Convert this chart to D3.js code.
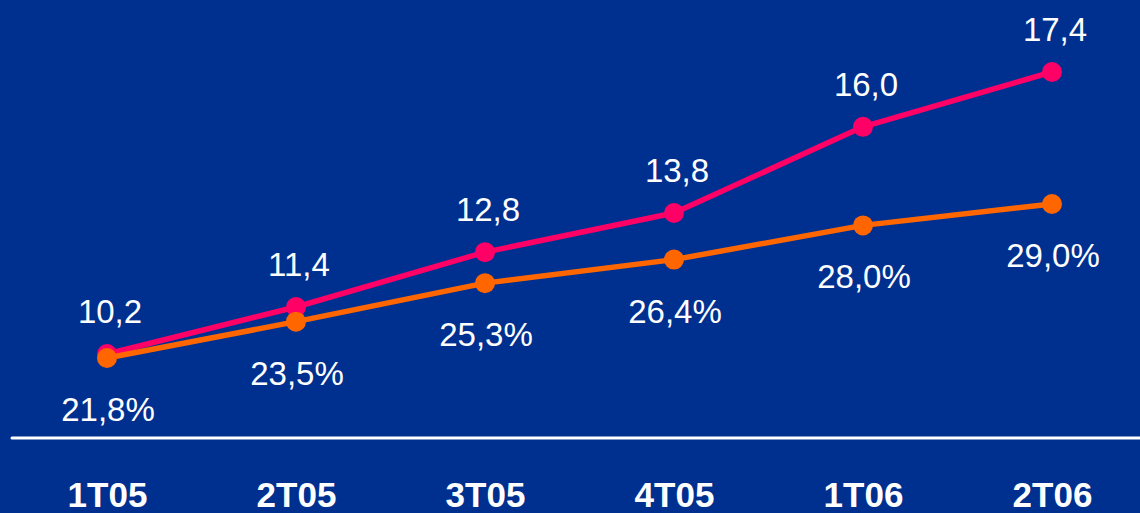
<!DOCTYPE html>
<html>
<head>
<meta charset="utf-8">
<script src="https://cdn.jsdelivr.net/npm/d3@7"></script>
<style>
html,body{margin:0;padding:0;background:#00308F;}
svg{display:block;}
</style>
</head>
<body>
<svg id="chart" width="1140" height="513"></svg>
<script>
const categories = ["1T05","2T05","3T05","4T05","1T06","2T06"];
const pinkValues = [10.2, 11.4, 12.8, 13.8, 16.0, 17.4];
const orangeValues = [21.8, 23.5, 25.3, 26.4, 28.0, 29.0];

const W = 1140, H = 513;
const svg = d3.select("#chart");
svg.append("rect").attr("width", W).attr("height", H).attr("fill", "#00308F");

const locale = d3.formatLocale({decimal: ",", thousands: ".", grouping: [3], currency: ["", ""]});
const fmt = locale.format(".1f");

const x = d3.scalePoint().domain(categories).range([107, 1052]);
const yPink = d3.scaleLinear().domain([10.2, 17.4]).range([354, 72]);
const yOrange = d3.scaleLinear().domain([21.8, 29.0]).range([358, 204]);

// baseline
svg.append("line").attr("x1", 12).attr("x2", W).attr("y1", 438).attr("y2", 438)
  .attr("stroke", "#fff").attr("stroke-width", 3).attr("stroke-linecap", "round");

// category axis
const axis = d3.axisBottom(x).tickSize(0).tickPadding(0);
const ax = svg.append("g").attr("transform", "translate(0,438)").call(axis);
ax.select(".domain").remove();
ax.selectAll("text").attr("dy", null).attr("y", 69)
  .attr("fill", "#fff").attr("font-family", "'Liberation Sans', Arial, sans-serif")
  .attr("font-weight", "bold").attr("font-size", 35);

function series(vals, y, color) {
  const g = svg.append("g");
  const line = d3.line().x((d, i) => x(categories[i])).y(d => y(d));
  g.append("path").datum(vals).attr("d", line).attr("fill", "none")
    .attr("stroke", color).attr("stroke-width", 5.5).attr("stroke-linejoin", "round");
  g.selectAll("circle").data(vals).join("circle")
    .attr("cx", (d, i) => x(categories[i])).attr("cy", d => y(d)).attr("r", 10)
    .attr("fill", color);
  return g;
}

series(pinkValues, yPink, "#FF0066");
series(orangeValues, yOrange, "#FF6600");

const labels = svg.append("g").attr("font-family", "'Liberation Sans', Arial, sans-serif")
  .attr("font-size", 33).attr("fill", "#fff").attr("text-anchor", "middle");
labels.selectAll("text.p").data(pinkValues).join("text").attr("class", "p")
  .attr("x", (d, i) => x(categories[i]) + 3).attr("y", d => yPink(d) - 31)
  .text(d => fmt(d));
labels.selectAll("text.o").data(orangeValues).join("text").attr("class", "o")
  .attr("x", (d, i) => x(categories[i]) + 1).attr("y", d => yOrange(d) + 63)
  .text(d => fmt(d) + "%");
</script>
</body>
</html>
